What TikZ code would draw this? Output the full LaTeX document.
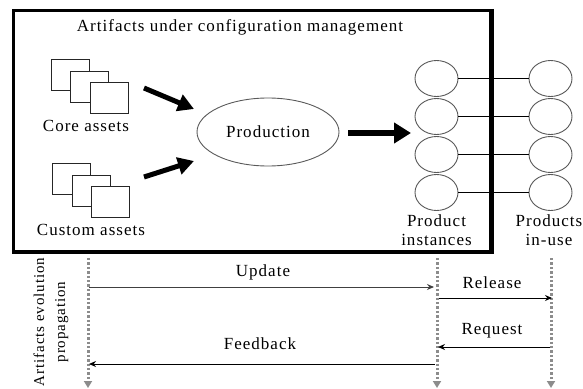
\documentclass[tikz,border=0pt]{standalone}
\usepackage{fontspec}
\setmainfont{Liberation Serif}[LetterSpace=6]
\usetikzlibrary{arrows.meta,shapes.geometric}

\begin{document}
\begin{tikzpicture}[x=1pt,y=-1pt,
  every node/.style={inner sep=0pt},
  lbl/.style={font=\fontsize{17}{19}\selectfont},
  doc/.style={draw=black!85, line width=0.9pt, fill=white,
    minimum width=38pt, minimum height=31pt},
  inst/.style={ellipse, draw=black!65, line width=0.9pt, fill=white,
    minimum width=43pt, minimum height=36pt},
  fat/.style={line width=5pt, -{Triangle[length=16pt,width=17pt]}},
  link/.style={line width=1.5pt},
  lifeline/.style={draw=black!45, line width=3pt, dash pattern=on 2.4pt off 2pt,
    -{Triangle[length=7pt,width=8pt,fill=black!45]}},
  msg/.style={line width=1pt, -{Stealth[length=7pt,width=6pt]}}]
\useasboundingbox (0,0) rectangle (583,388);

% configuration-management frame
\node[draw, line width=3.5pt, minimum width=477pt, minimum height=241.5pt]
  (frame) at (252,131.25) {};
\node[lbl] (title) at (240,27) {Artifacts under configuration management};

% core asset documents
\node[doc] (c1) at (70.5,75) {};
\node[doc] (c2) at (89.5,86.5) {};
\node[doc] (c3) at (109.5,97.5) {};
\node[lbl] (core) at (86,126) {Core assets};

% custom asset documents
\node[doc] (u1) at (71,178.5) {};
\node[doc] (u2) at (91,190.5) {};
\node[doc] (u3) at (110.5,201.5) {};
\node[lbl] (custom) at (91,230) {Custom assets};

% production
\node[ellipse, draw=black!65, line width=0.9pt, minimum width=142pt,
  minimum height=68pt, lbl] (prod) at (268,132) {Production};

\coordinate (coreA) at (144,88);   \coordinate (coreB) at (194,109);
\coordinate (custA) at (144,177);  \coordinate (custB) at (194,161);
\coordinate (prodA) at (348,133);  \coordinate (prodB) at (411,133);
\draw[fat] (coreA) -- (coreB);
\draw[fat] (custA) -- (custB);
\draw[fat, -{Triangle[length=17pt,width=20pt]}, line width=6pt] (prodA) -- (prodB);

% product instances and products in use
\foreach \i/\y in {1/78.5,2/116.5,3/154.5,4/192.5}{
  \node[inst] (p\i) at (436.5,\y) {};
  \node[inst] (q\i) at (550.5,\y) {};
  \draw[link] (p\i.east) -- (q\i.west);
}
\draw[line width=3.5pt] (frame.north east) -- (frame.south east);

\node[lbl, align=center] (pilbl) at (436.5,230.5) {Product\\instances};
\node[lbl, align=center] (pulbl) at (549,230.5) {Products\\in-use};

% lifelines
\coordinate (aT) at (88,258);  \coordinate (aB) at (88,388);
\coordinate (bT) at (437,258); \coordinate (bB) at (437,388);
\coordinate (cT) at (551,258); \coordinate (cB) at (551,388);
\draw[lifeline] (aT) -- (aB);
\draw[lifeline] (bT) -- (bB);
\draw[lifeline] (cT) -- (cB);

\node[rotate=90, align=center, font=\fontsize{15}{21}\selectfont] (axis)
  at (51,322) {Artifacts evolution\\propagation};

% messages
\coordinate (upA) at (89,287);   \coordinate (upB) at (434,287);
\coordinate (reA) at (439,298);  \coordinate (reB) at (552,298);
\coordinate (rqA) at (550,347);  \coordinate (rqB) at (438,347);
\coordinate (fbA) at (435,364);  \coordinate (fbB) at (89,364);
\draw[msg, draw=black!75] (upA) -- (upB);
\draw[msg] (reA) -- (reB);
\draw[msg] (rqA) -- (rqB);
\draw[msg] (fbA) -- (fbB);
\node[lbl] (uplbl) at (263,272) {Update};
\node[lbl] (relbl) at (492,283) {Release};
\node[lbl] (rqlbl) at (492,331) {Request};
\node[lbl] (fblbl) at (260,344) {Feedback};
\end{tikzpicture}
\end{document}
